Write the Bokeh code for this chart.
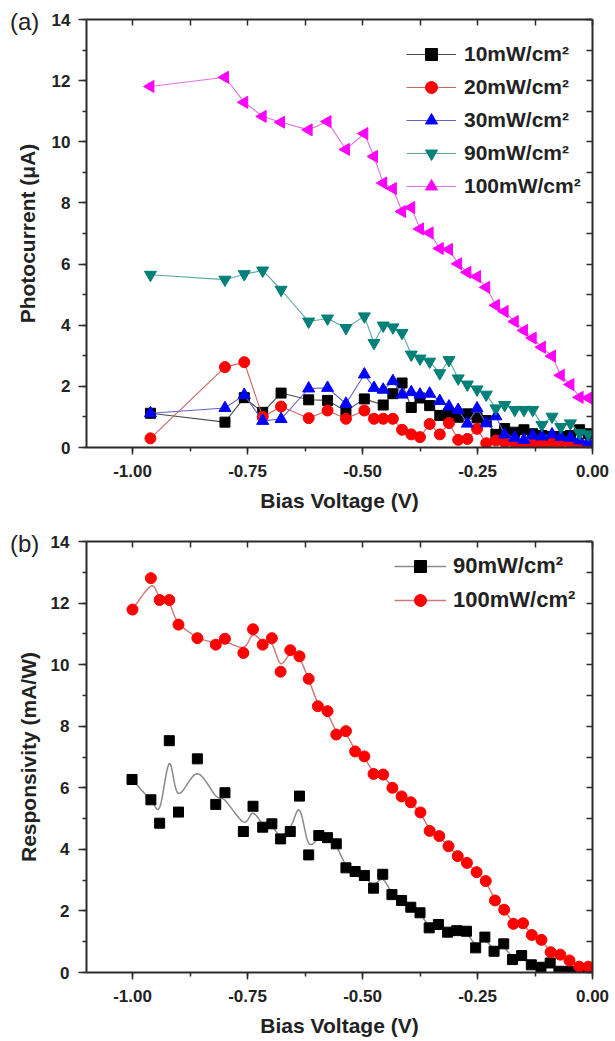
import numpy as np
from bokeh.plotting import figure
from bokeh.models import (LinearAxis, FixedTicker, PrintfTickFormatter, Range1d,
                          Legend, LegendItem, Div, GridBox)
from bokeh.embed import file_html
from bokeh.resources import INLINE

# ---------------- Panel (a): photocurrent (uA) vs bias (V) ----------------
bias_10 = [-0.961, -0.799, -0.757, -0.717, -0.677, -0.617, -0.576, -0.536, -0.496,
           -0.455, -0.434, -0.414, -0.394, -0.375, -0.354, -0.332, -0.312, -0.292,
           -0.272, -0.251, -0.231, -0.210, -0.191, -0.169, -0.149, -0.130, -0.110,
           -0.088, -0.069, -0.048, -0.028, -0.009]
cur_10 = [1.12, 0.83, 1.63, 1.15, 1.78, 1.56, 1.54, 1.19, 1.59,
          1.39, 1.76, 2.11, 1.31, 1.62, 1.37, 1.05, 1.12, 0.99,
          1.10, 0.97, 0.88, 0.43, 0.62, 0.50, 0.58, 0.45, 0.39,
          0.36, 0.36, 0.39, 0.58, 0.45]

bias_a = [-0.961, -0.799, -0.757, -0.717, -0.677, -0.617, -0.576, -0.536, -0.496,
          -0.475, -0.455, -0.434, -0.414, -0.394, -0.375, -0.354, -0.332, -0.312,
          -0.292, -0.272, -0.251, -0.231, -0.210, -0.191, -0.169, -0.149, -0.130,
          -0.110, -0.088, -0.069, -0.048, -0.028, -0.009]
cur_20 = [0.30, 2.63, 2.79, 1.00, 1.34, 0.96, 1.21, 0.94, 1.21,
          0.94, 0.94, 0.94, 0.58, 0.43, 0.34, 0.77, 0.43, 0.80,
          0.25, 0.28, 0.61, 0.14, 0.23, 0.17, 0.12, 0.10, 0.12,
          0.10, 0.14, 0.17, 0.14, 0.12, 0.10]
cur_30 = [1.12, 1.29, 1.72, 0.87, 0.93, 1.93, 1.95, 1.43, 2.39,
          1.95, 1.89, 2.17, 1.73, 1.81, 1.73, 1.76, 1.52, 1.34,
          1.23, 0.78, 1.28, 0.79, 1.02, 0.42, 0.32, 0.25, 0.39,
          0.36, 0.43, 0.34, 0.32, 0.23, 0.17]
cur_90 = [5.65, 5.49, 5.67, 5.79, 5.16, 4.12, 4.22, 3.91, 4.29,
          3.42, 3.99, 3.93, 3.75, 3.04, 2.91, 2.81, 2.43, 2.86,
          2.26, 2.06, 1.90, 1.73, 1.28, 1.39, 1.23, 1.23, 1.23,
          0.74, 1.01, 0.67, 0.79, 0.47, 0.43]
cur_100 = [11.81, 12.11, 11.29, 10.83, 10.64, 10.39, 10.66, 9.75, 10.27,
           9.52, 8.65, 8.47, 7.72, 7.85, 7.15, 7.02, 6.51, 6.48,
           6.01, 5.73, 5.59, 5.24, 4.65, 4.45, 4.12, 3.83, 3.58,
           3.28, 2.99, 2.36, 2.06, 1.64, 1.62]

# ---------------- Panel (b): responsivity (mA/W) vs bias (V) ----------------
bias_b90 = [-1.001, -0.960, -0.941, -0.920, -0.900, -0.859, -0.819, -0.799, -0.759,
            -0.738, -0.717, -0.697, -0.678, -0.657, -0.637, -0.617, -0.595, -0.576,
            -0.557, -0.536, -0.516, -0.496, -0.476, -0.456, -0.436, -0.415, -0.395,
            -0.375, -0.355, -0.335, -0.315, -0.295, -0.274, -0.254, -0.234, -0.214,
            -0.193, -0.174, -0.154, -0.133, -0.112, -0.092, -0.073, -0.052, -0.032,
            -0.012]
resp_90 = [6.27, 5.61, 4.85, 7.53, 5.21, 6.94, 5.46, 5.84, 4.58,
           5.40, 4.72, 4.83, 4.34, 4.58, 5.73, 3.82, 4.45, 4.38,
           4.18, 3.40, 3.28, 3.15, 2.74, 3.19, 2.53, 2.34, 2.12,
           1.94, 1.45, 1.56, 1.31, 1.36, 1.34, 0.80, 1.15, 0.69,
           0.93, 0.42, 0.55, 0.25, 0.17, 0.31, 0.04, 0.04, 0.03,
           0.02]
bias_b100 = [-1.000, -0.960, -0.941, -0.920, -0.900, -0.859, -0.819, -0.799, -0.759,
             -0.738, -0.717, -0.697, -0.678, -0.657, -0.637, -0.617, -0.597, -0.576,
             -0.557, -0.536, -0.516, -0.496, -0.476, -0.455, -0.435, -0.415, -0.395,
             -0.374, -0.354, -0.333, -0.313, -0.293, -0.273, -0.252, -0.232, -0.212,
             -0.192, -0.172, -0.151, -0.132, -0.111, -0.091, -0.070, -0.050, -0.029,
             -0.009]
resp_100 = [11.79, 12.81, 12.10, 12.10, 11.30, 10.86, 10.65, 10.84, 10.38,
            11.15, 10.65, 10.86, 9.77, 10.47, 10.27, 9.54, 8.65, 8.49,
            7.73, 7.84, 7.18, 7.02, 6.45, 6.43, 6.00, 5.72, 5.53,
            5.20, 4.60, 4.43, 4.10, 3.78, 3.56, 3.26, 2.97, 2.34,
            2.04, 1.58, 1.60, 1.22, 1.06, 0.66, 0.58, 0.39, 0.19,
            0.19]

x_major = [-1.0, -0.75, -0.5, -0.25, 0.0]
x_minor = [-1.0, -0.875, -0.75, -0.625, -0.5, -0.375, -0.25, -0.125, 0.0]
y_major = [0, 2, 4, 6, 8, 10, 12, 14]
y_minor = list(range(0, 15))

FONT = "Liberation Sans"
AX = "#2a2a2a"


def smooth_path(xs, ys, n=12):
    xs = np.asarray(xs, float)
    ys = np.asarray(ys, float)
    ys_s = ys.copy()
    ys_s[1:-1] = 0.15 * ys[:-2] + 0.7 * ys[1:-1] + 0.15 * ys[2:]
    P = np.column_stack([xs, ys_s])
    P = np.vstack([P[0], P, P[-1]])
    t = np.linspace(0, 1, n, endpoint=False)
    t2, t3 = t * t, t * t * t
    out = []
    for i in range(1, len(P) - 2):
        p0, p1, p2, p3 = P[i - 1], P[i + 0], P[i + 1], P[i + 2]
        pts = 0.5 * (2 * p1[None, :] + np.outer(t, -p0 + p2)
                     + np.outer(t2, 2 * p0 - 5 * p1 + 4 * p2 - p3)
                     + np.outer(t3, -p0 + 3 * p1 - 3 * p2 + p3))
        out.append(pts)
    out.append(P[-2][None, :])
    arr = np.vstack(out)
    return arr[:, 0], arr[:, 1]


def make_fig(height, bl, br, bt, bb, ylabel, tick_standoff_y, lab_standoff_y,
             tick_standoff_x, lab_standoff_x):
    p = figure(width=615, height=height, x_range=Range1d(-1.1, 0.0), y_range=Range1d(0, 14),
               output_backend="svg", toolbar_location=None, x_axis_type=None, y_axis_type=None,
               min_border_left=bl, min_border_right=br, min_border_top=bt, min_border_bottom=bb)
    p.outline_line_color = None
    p.background_fill_color = "white"
    p.border_fill_color = "white"

    def base(ax):
        ax.axis_line_color = AX
        ax.axis_line_width = 2
        ax.major_tick_line_color = AX
        ax.minor_tick_line_color = AX
        ax.major_tick_line_width = 1.5
        ax.minor_tick_line_width = 1.5
        ax.major_label_text_font = FONT
        ax.major_label_text_font_style = "bold"
        ax.major_label_text_color = "#222222"
        ax.major_label_text_font_size = "17px"
        ax.axis_label_text_font = FONT
        ax.axis_label_text_font_style = "bold"
        ax.axis_label_text_font_size = "21px"
        ax.axis_label_text_color = "#222222"

    bottom = LinearAxis(ticker=FixedTicker(ticks=x_major, minor_ticks=x_minor),
                        formatter=PrintfTickFormatter(format="%.2f"),
                        axis_label="Bias Voltage (V)")
    base(bottom)
    bottom.major_tick_out = 7
    bottom.major_tick_in = 0
    bottom.minor_tick_out = 4
    bottom.minor_tick_in = 0
    bottom.major_label_standoff = tick_standoff_x
    bottom.axis_label_standoff = lab_standoff_x
    p.add_layout(bottom, "below")

    left = LinearAxis(ticker=FixedTicker(ticks=y_major, minor_ticks=y_minor),
                      formatter=PrintfTickFormatter(format="%d"), axis_label=ylabel)
    base(left)
    left.major_tick_out = 8
    left.major_tick_in = 0
    left.minor_tick_out = 4
    left.minor_tick_in = 0
    left.major_label_standoff = tick_standoff_y
    left.axis_label_standoff = lab_standoff_y
    p.add_layout(left, "left")

    top = LinearAxis(ticker=FixedTicker(ticks=x_minor, minor_ticks=[]))
    base(top)
    top.major_tick_out = 0
    top.major_tick_in = 6
    top.minor_tick_out = 0
    top.minor_tick_in = 0
    top.major_label_text_font_size = "0px"
    top.major_label_text_color = None
    top.major_label_standoff = 0
    p.add_layout(top, "above")

    right = LinearAxis(ticker=FixedTicker(ticks=y_minor, minor_ticks=[]))
    base(right)
    right.major_tick_out = 0
    right.major_tick_in = 6
    right.minor_tick_out = 0
    right.minor_tick_in = 0
    right.major_label_text_font_size = "0px"
    right.major_label_text_color = None
    right.major_label_standoff = 0
    p.add_layout(right, "right")
    return p


def panel_tag(text, top):
    return Div(text=text, width=44, height=30,
               styles={"font-family": "'Liberation Sans', Arial, sans-serif",
                       "font-size": "24px", "line-height": "1.12", "color": "#222222",
                       "margin-left": "10px", "margin-top": "%dpx" % top})


# ---------------- figure (a) ----------------
pa = make_fig(518, 80, 21, 19, 71, "Photocurrent (\u03bcA)", 8, 10, 10, 9)

series_a = [
    (bias_10, cur_10, "square", "#000000", "#4d4d4d", 10, 0.0, "10mW/cm\u00b2"),
    (bias_a, cur_20, "circle", "#ff0000", "#cc6464", 11, 0.0, "20mW/cm\u00b2"),
    (bias_a, cur_30, "triangle", "#0000ff", "#6262c8", 12, 0.0, "30mW/cm\u00b2"),
    (bias_a, cur_90, "inverted_triangle", "#008078", "#58aaa2", 12, 0.0, "90mW/cm\u00b2"),
    (bias_a, cur_100, "triangle", "#ff00ff", "#e070e0", 12, np.pi / 2, "100mW/cm\u00b2"),
]
items_a = []
for xs, ys, mk, mc, lc, sz, ang, lab in series_a:
    lr = pa.line(xs, ys, line_color=lc, line_width=1.1)
    sr = pa.scatter(xs, ys, marker=mk, size=sz, fill_color=mc, line_color=mc, angle=ang)
    items_a.append(LegendItem(label=lab, renderers=[lr, sr]))

leg_a = Legend(items=items_a, location=(320, 246), glyph_width=50, glyph_height=30,
               label_height=30, spacing=3, padding=5, margin=0, label_standoff=8,
               border_line_color=None, background_fill_alpha=0,
               label_text_font=FONT, label_text_font_style="bold",
               label_text_font_size="21px", label_text_color="#222222")
pa.add_layout(leg_a)

# ---------------- figure (b) ----------------
pb = make_fig(523, 86, 23, 23, 69, "Responsivity (mA/W)", 9, 8, 10, 9)

items_b = []
for xs, ys, mk, mc, lc, sz, lab in [
        (bias_b90, resp_90, "square", "#000000", "#8a8a8a", 10, "90mW/cm\u00b2"),
        (bias_b100, resp_100, "circle", "#ff0000", "#d07a7a", 11, "100mW/cm\u00b2")]:
    sx, sy = smooth_path(xs, ys)
    lr = pb.line(sx, sy, line_color=lc, line_width=1.5)
    sr = pb.scatter(xs, ys, marker=mk, size=sz, fill_color=mc, line_color=mc)
    items_b.append(LegendItem(label=lab, renderers=[lr, sr]))

leg_b = Legend(items=items_b, location=(308, 357), glyph_width=52, glyph_height=30,
               label_height=30, spacing=4, padding=5, margin=0, label_standoff=7,
               border_line_color=None, background_fill_alpha=0,
               label_text_font=FONT, label_text_font_style="bold",
               label_text_font_size="22px", label_text_color="#222222")
pb.add_layout(leg_b)

grid = GridBox(children=[(pa, 0, 0), (panel_tag("(a)", 9), 0, 0),
                         (pb, 1, 0), (panel_tag("(b)", 13), 1, 0)], spacing=0)
open("out.html", "w").write(file_html(grid, INLINE))
